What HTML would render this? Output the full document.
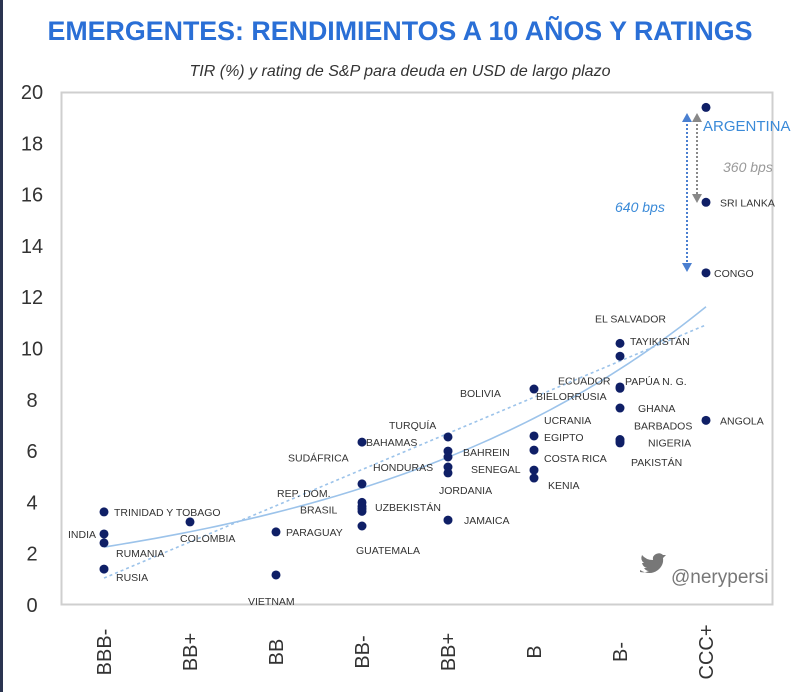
<!DOCTYPE html>
<html><head><meta charset="utf-8"><style>
body{margin:0;background:#fff;width:800px;height:692px;overflow:hidden;font-family:"Liberation Sans",sans-serif}
</style></head><body>
<svg id="c" width="800" height="692" xmlns="http://www.w3.org/2000/svg">
<rect x="0" y="0" width="3" height="692" fill="#2a3450"/>
<text x="400" y="40" text-anchor="middle" font-size="27" font-weight="bold" fill="#2a6fd6" textLength="705" lengthAdjust="spacingAndGlyphs">EMERGENTES: RENDIMIENTOS A 10 AÑOS Y RATINGS</text>
<text x="400" y="76" text-anchor="middle" font-size="16" font-style="italic" fill="#333">TIR (%) y rating de S&amp;P para deuda en USD de largo plazo</text>
<rect x="61.5" y="92.5" width="711" height="512" fill="#fff" stroke="#cfcfcf" stroke-width="2"/>
<g id="yt"></g><g id="xt"></g><g id="trend"></g><g id="pts"></g>
<g>
<line x1="687" y1="120" x2="687" y2="265" stroke="#4a7fd0" stroke-width="2" stroke-dasharray="2,2"/>
<polygon points="682,122 692,122 687,113" fill="#4a7fd0"/><polygon points="682,263 692,263 687,272" fill="#4a7fd0"/>
<line x1="697" y1="120" x2="697" y2="195" stroke="#888" stroke-width="2" stroke-dasharray="2,2"/>
<polygon points="692,122 702,122 697,113" fill="#888"/><polygon points="692,194 702,194 697,203" fill="#888"/>
<text x="703" y="131" font-size="15" fill="#3a8ad8">ARGENTINA</text>
<text x="723" y="172" font-size="14" font-style="italic" fill="#999">360 bps</text>
<text x="615" y="212" font-size="14" font-style="italic" fill="#3a8ad8">640 bps</text>
</g>
<g>
<path d="M640 570 q10 6 18 0 q6-5 5-12 l3-3 -3 0 q-3-3-7-1 q-4 2-3 6 q-7 0-11-5 q-2 5 2 8 l-2 0 q1 4 5 5 l-3 0 q2 3 5 3 q-4 2-9 1z" fill="#777"/>
<text x="671" y="583" font-size="19" fill="#777">@nerypersi</text>
</g>
</svg>
<script>
const categories=["BBB-","BB+","BB","BB-","BB+","B","B-","CCC+"];
const yTicks=[0,2,4,6,8,10,12,14,16,18,20];
const names=["TRINIDAD Y TOBAGO","INDIA","RUMANIA","RUSIA","COLOMBIA","PARAGUAY","VIETNAM","BAHAMAS","HONDURAS","SUDÁFRICA","REP. DOM.","BRASIL","UZBEKISTÁN","GUATEMALA","BOLIVIA","TURQUÍA","BAHREIN","SENEGAL","JORDANIA","JAMAICA","BIELORRUSIA","UCRANIA","EGIPTO","COSTA RICA","KENIA","EL SALVADOR","TAYIKISTÁN","PAPÚA N. G.","ECUADOR","GHANA","BARBADOS","NIGERIA","PAKISTÁN","ARGENTINA","SRI LANKA","CONGO","ANGOLA"];
const ratingIdx=[0,0,0,0,1,2,2,3,3,3,3,3,3,3,4,4,4,4,4,4,5,5,5,5,5,6,6,6,6,6,6,6,6,7,7,7,7];
const yields=[3.63,2.77,2.42,1.4,3.24,2.85,1.17,6.35,4.72,4.0,3.85,3.65,3.75,3.08,6.55,6.0,5.77,5.38,5.15,3.31,8.42,6.59,6.04,5.26,4.95,10.2,9.7,8.5,8.45,7.68,6.45,6.38,6.32,19.4,15.7,12.95,7.2];
// label placement (dx,dy in px from point, anchor)
const lab=[[10,4,"s"],[-8,4,"e"],[12,14,"s"],[12,12,"s"],[-10,20,"s"],[10,4,"s"],[-28,30,"s"],[4,4,"s"],[11,-13,"s"],[-74,-41,"s"],[-85,-9,"s"],[-62,2,"s"],[13,2,"s"],[-6,28,"s"],[12,-40,"s"],[-59,-22,"s"],[15,-1,"s"],[23,6,"s"],[-9,21,"s"],[16,4,"s"],[2,11,"s"],[10,-12,"s"],[10,-9,"s"],[10,-8,"s"],[14,11,"s"],[-25,-21,"s"],[10,-11,"s"],[5,-2,"s"],[-62,-4,"s"],[18,4,"s"],[14,-10,"s"],[28,5,"s"],[11,23,"s"],[0,0,"n"],[14,4,"s"],[8,4,"s"],[14,4,"s"]];
const X0=104,DX=86,Y0=605,YS=25.65;
const xS=i=>X0+i*DX, yS=v=>Y0-v*YS;
const ns="http://www.w3.org/2000/svg";
function mk(t,a,p){const e=document.createElementNS(ns,t);for(const k in a)e.setAttribute(k,a[k]);p.appendChild(e);return e;}
const yt=document.getElementById('yt');
yTicks.forEach(v=>{const t=mk('text',{x:32,y:yS(v)+7,'text-anchor':'middle','font-size':20,fill:'#333'},yt);t.textContent=v;

});
const xt=document.getElementById('xt');
categories.forEach((c,i)=>{const t=mk('text',{x:0,y:0,'font-size':20,fill:'#333','text-anchor':'middle',transform:`translate(${xS(i)+7},652) rotate(-90)`},xt);t.textContent=c;

});
const tr=document.getElementById('trend');
let d1="",d2="";
for(let k=0;k<=70;k++){const i=k/10;const ve=2.26*Math.exp(0.234*i);const vl=1.05+i*1.41;
d1+=(k?"L":"M")+xS(i)+" "+yS(ve);d2+=(k?"L":"M")+xS(i)+" "+yS(vl);}
const p1=mk('path',{d:d1,fill:'none',stroke:'#9cc3ea','stroke-width':1.6},tr);


const p2=mk('path',{d:d2,fill:'none',stroke:'#9cc3ea','stroke-width':1.6,'stroke-dasharray':'3,3'},tr);


const pts=document.getElementById('pts');
yields.forEach((v,k)=>{const cx=xS(ratingIdx[k]),cy=yS(v);
const c=mk('circle',{cx:cx,cy:cy,r:4.5,fill:'#0f1f66'},pts);


const L=lab[k];if(L[2]==="n")return;
const t=mk('text',{x:cx+L[0],y:cy+L[1],'font-size':10.5,fill:'#333','text-anchor':L[2]==="e"?"end":"start"},pts);t.textContent=names[k];

});
</script>
</body></html>
